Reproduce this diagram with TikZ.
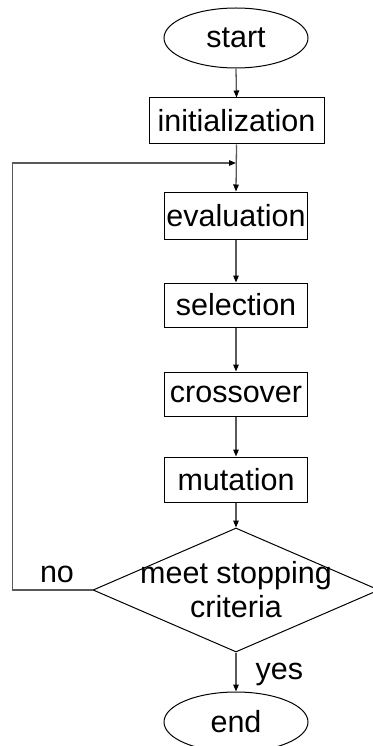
\documentclass[tikz,border=0pt]{standalone}
\usepackage{fontspec}
\setmainfont{Liberation Sans}
\usetikzlibrary{shapes.geometric,arrows.meta}

\tikzset{
  every node/.style={font=\fontsize{30.5}{34}\selectfont, inner sep=0pt},
  terminal/.style={ellipse, draw, line width=1pt, minimum width=144pt, minimum height=60pt},
  stepbox/.style={rectangle, draw, line width=1pt, minimum height=45pt},
  decision/.style={diamond, draw, line width=1pt, minimum width=286pt, minimum height=124pt},
  conn/.style={draw=black!65, line width=1.3pt,
    -{Triangle[length=7pt,width=5.5pt,color=black]}},
}

\begin{document}
\begin{tikzpicture}[x=1pt, y=-1pt]
  \useasboundingbox (0,0) rectangle (372,746);

  % nodes of the flow
  \node[terminal] (start) at (236,38) {start};
  \node[stepbox, minimum width=175pt, minimum height=46pt] (init) at (236.5,121) {initialization};
  \node[stepbox, minimum width=143pt, minimum height=47pt] (eval) at (236,215.5) {evaluation};
  \node[stepbox, minimum width=143pt, minimum height=44pt] (sel)  at (236,305) {selection};
  \node[stepbox, minimum width=143pt, minimum height=44pt] (cross) at (236,394) {crossover};
  \node[stepbox, minimum width=143pt, minimum height=45pt] (mut)  at (236,479.5) {mutation};
  \node[decision] (crit) at (236,590) {};
  \node[align=center] (critlabel) at (236,590) {meet stopping\\criteria};
  \node[terminal] (end) at (236,722) {end};

  % point where the loop re-enters the main line
  \coordinate (join) at (236,163);

  % connectors
  \draw[conn] (start.south) -- (init.north);
  \draw[conn] (init.south) -- (eval.north);
  \draw[conn] (eval.south) -- (sel.north);
  \draw[conn] (sel.south) -- (cross.north);
  \draw[conn] (cross.south) -- (mut.north);
  \draw[conn] (mut.south) -- (crit.north);
  \draw[conn] (crit.south) -- (end.north)
    node[pos=0.45, right=19pt, yshift=-4pt] (yes) {yes};
  \draw[conn] (crit.west) -- ++(-80,0) |- (join);

  \node (no) at (57,574) {no};
\end{tikzpicture}
\end{document}
